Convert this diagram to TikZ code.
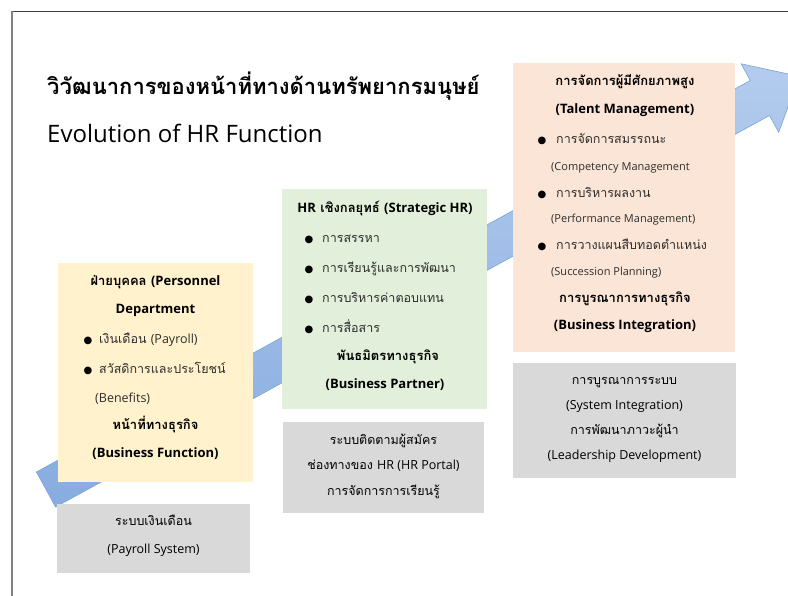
\documentclass[tikz,border=0pt]{standalone}
\usepackage{fontspec}
\setmainfont[Script=Thai]{Loma}
\newfontfamily\latinfont{Open Sans}
\newfontfamily\symfont{DejaVu Sans}
\newcommand\la[1]{{\latinfont #1}}
\definecolor{paleyellow}{HTML}{FFF2CC}
\definecolor{palegreen}{HTML}{E2EFDA}
\definecolor{palepeach}{HTML}{FBE5D6}
\definecolor{panelgray}{HTML}{D9D9D9}
\definecolor{txtgray}{HTML}{2E2E2E}
\definecolor{arrowlight}{HTML}{B3CCEE}
\definecolor{arrowdark}{HTML}{87ACDF}
\definecolor{arrowedge}{HTML}{7DA3D6}
\definecolor{frametop}{HTML}{404040}
\definecolor{frameleft}{HTML}{808080}
\begin{document}
\begin{tikzpicture}[x=1pt,y=-1pt,
  panel/.style={rectangle, draw=none, inner sep=0pt},
  head/.style={anchor=mid, inner sep=0pt, font=\bfseries\fontsize{13}{15}\selectfont, text=black},
  item/.style={anchor=mid west, inner sep=0pt, font=\fontsize{12.5}{15}\selectfont, text=txtgray},
  note/.style={anchor=mid west, inner sep=0pt, font=\fontsize{11}{13}\selectfont, text=txtgray},
  sys/.style={anchor=mid, inner sep=0pt, font=\fontsize{12.5}{15}\selectfont, text=black},
  dot/.style={anchor=mid, inner sep=0pt, font=\symfont\fontsize{10}{12}\selectfont, text=black},
]
\useasboundingbox (0,0) rectangle (788,596);
\clip (0,0) rectangle (788,596);
\fill[white] (0,0) rectangle (788,596);

% page frame
\draw[frametop, line width=1.5] (11,11.5) -- (788,11.5);
\draw[frameleft, line width=2] (11.5,11) -- (11.5,596);

% rising block arrow behind the panels
\path[draw=arrowedge, line width=0.6, top color=arrowlight, bottom color=arrowdark]
  (36.4,472.0) -- (750.3,80.5) -- (741.1,63.8) -- (799.4,76.4)
  -- (778.7,132.2) -- (769.5,115.5) -- (55.6,507.0) -- cycle;

% title
\node[anchor=mid west, inner sep=0pt, font=\bfseries\fontsize{22}{26}\selectfont] (titleth) at (47,92) {วิวัฒนาการของหน้าที่ทางด้านทรัพยากรมนุษย์};
\node[anchor=mid west, inner sep=0pt, font=\latinfont\fontsize{24}{28}\selectfont] (titleen) at (47,140) {Evolution of HR Function};

% stage 1: personnel department
\node[panel, fill=paleyellow, minimum width=195, minimum height=219] (pers) at (155.5,372.5) {};
\node[head] (persA) at (155.5,283) {ฝ่ายบุคคล \la{(Personnel}};
\node[head] (persB) at (155.5,311) {\la{Department}};
\node[dot] (persD1) at (88,341) {●};
\node[item] (persI1) at (99,341) {เงินเดือน \la{(Payroll)}};
\node[dot] (persD2) at (88,371) {●};
\node[item] (persI2) at (99,371) {สวัสดิการและประโยชน์};
\node[item] (persI3) at (95,400) {\la{(Benefits)}};
\node[head] (persC) at (155.5,427) {หน้าที่ทางธุรกิจ};
\node[head] (persE) at (155.5,455) {\la{(Business Function)}};

\node[panel, fill=panelgray, minimum width=193, minimum height=69] (sys1) at (153.5,538.5) {};
\node[sys] (sys1A) at (153.5,523) {ระบบเงินเดือน};
\node[sys] (sys1B) at (153.5,551) {\la{(Payroll System)}};

% stage 2: strategic HR
\node[panel, fill=palegreen, minimum width=205, minimum height=220] (strat) at (384.5,299) {};
\node[head] (stratA) at (385,210) {\la{HR} เชิงกลยุทธ์ \la{(Strategic HR)}};
\node[dot] (stratD1) at (309,240) {●};
\node[item] (stratI1) at (322,240) {การสรรหา};
\node[dot] (stratD2) at (309,270) {●};
\node[item] (stratI2) at (322,270) {การเรียนรู้และการพัฒนา};
\node[dot] (stratD3) at (309,300) {●};
\node[item] (stratI3) at (322,300) {การบริหารค่าตอบแทน};
\node[dot] (stratD4) at (309,330) {●};
\node[item] (stratI4) at (322,330) {การสื่อสาร};
\node[head] (stratB) at (388,358) {พันธมิตรทางธุรกิจ};
\node[head] (stratC) at (385,386) {\la{(Business Partner)}};

\node[panel, fill=panelgray, minimum width=201, minimum height=91] (sys2) at (383.5,467.5) {};
\node[sys] (sys2A) at (383.5,442) {ระบบติดตามผู้สมัคร};
\node[sys] (sys2B) at (383.5,467) {ช่องทางของ \la{HR (HR Portal)}};
\node[sys] (sys2C) at (383.5,493) {การจัดการการเรียนรู้};

% stage 3: talent management
\node[panel, fill=palepeach, minimum width=222, minimum height=289] (tal) at (624,207.5) {};
\node[head] (talA) at (625,83) {การจัดการผู้มีศักยภาพสูง};
\node[head] (talB) at (625,111) {\la{(Talent Management)}};
\node[dot] (talD1) at (542,141) {●};
\node[item] (talI1) at (556,141) {การจัดการสมรรถนะ};
\node[note] (talN1) at (551,168) {\la{(Competency Management}};
\node[dot] (talD2) at (542,195) {●};
\node[item] (talI2) at (556,195) {การบริหารผลงาน};
\node[note] (talN2) at (551,220) {\la{(Performance Management)}};
\node[dot] (talD3) at (542,247) {●};
\node[item] (talI3) at (556,247) {การวางแผนสืบทอดตำแหน่ง};
\node[note] (talN3) at (551,273) {\la{(Succession Planning)}};
\node[head] (talC) at (625,300) {การบูรณาการทางธุรกิจ};
\node[head] (talE) at (625,327) {\la{(Business Integration)}};

\node[panel, fill=panelgray, minimum width=223, minimum height=115] (sys3) at (624.5,420.5) {};
\node[sys] (sys3A) at (624.5,382) {การบูรณาการระบบ};
\node[sys] (sys3B) at (624.5,407) {\la{(System Integration)}};
\node[sys] (sys3C) at (624.5,432) {การพัฒนาภาวะผู้นำ};
\node[sys] (sys3D) at (624.5,457) {\la{(Leadership Development)}};
\end{tikzpicture}
\end{document}
